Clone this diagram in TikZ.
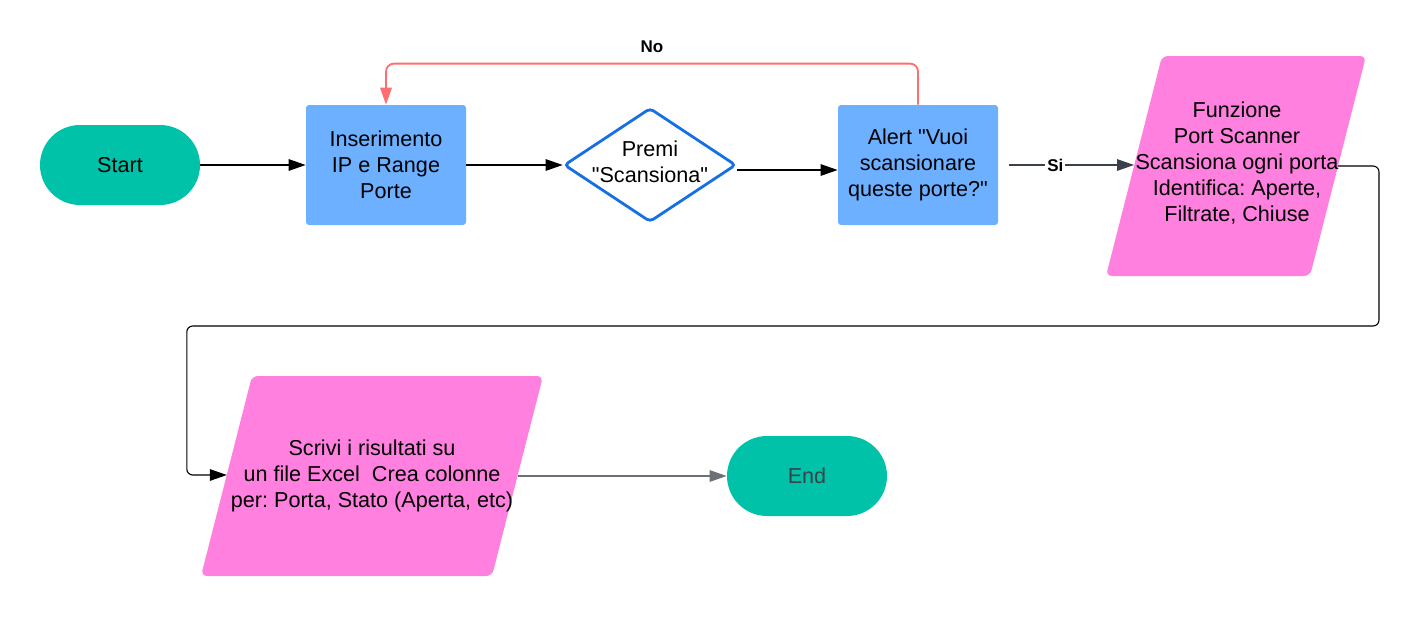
\documentclass[tikz,border=0pt]{standalone}
\usepackage{fontspec}
\setmainfont{Liberation Sans}
\frenchspacing
\usetikzlibrary{shapes.geometric,arrows.meta}
\definecolor{termgreen}{RGB}{0,194,168}
\definecolor{procblue}{RGB}{108,176,255}
\definecolor{decblue}{RGB}{22,112,228}
\definecolor{iopink}{RGB}{255,128,223}
\definecolor{nored}{RGB}{255,110,110}
\definecolor{darkline}{RGB}{58,65,74}
\newcommand{\qq}{\textquotedbl}

\begin{document}
\begin{tikzpicture}[x=0.5pt, y=-0.5pt,
	txt/.style={font=\fontsize{10.8}{13}\selectfont, align=center},
	term/.style={txt, fill=termgreen, rounded corners=20pt, minimum width=80pt, minimum height=40pt, inner sep=0pt},
	proc/.style={txt, fill=procblue, rounded corners=1.5pt, minimum width=80pt, minimum height=60pt, inner sep=0pt},
	decision/.style={diamond, draw=decblue, line width=1.4pt, fill=white, rounded corners=2pt, minimum width=86pt, minimum height=57pt, inner sep=0pt},
	iobox/.style={fill=iopink, rounded corners=3pt},
	flow/.style={line width=0.55pt, -{Triangle[length=8.5pt,width=5.8pt]}},
	noline/.style={flow, draw=nored, line width=0.9pt, rounded corners=4pt},
	lbl/.style={font=\fontsize{8.5}{10}\selectfont\bfseries, inner sep=1pt}]
	\useasboundingbox (0,0) rectangle (1419,616);

	% top row
	\node[term] (start) at (120,165) {Start};
	\node[proc] (ins) at (386,165) {Inserimento\\IP e Range\\Porte};
	\node[decision] (premi) at (650,165) {};
	\node[txt] (premitxt) at ([yshift=1.5pt]premi) {Premi\\\qq Scansiona\qq};
	\node[proc] (alert) at (918,165) {Alert \qq Vuoi\\scansionare\\queste porte?\qq};

	% port scanner
	\fill[iobox] (1106,276) -- (1162,56) -- (1366,56) -- (1310,276) -- cycle;
	\coordinate (funzin) at (1134,165);
	\coordinate (funzout) at (1338,166);
	\node[txt] (funz) at (1237,163) {Funzione\\Port Scanner\\Scansiona ogni porta\\Identifica: Aperte,\\Filtrate, Chiuse};

	% bottom row
	\fill[iobox] (201,576) -- (252,376) -- (543,376) -- (492,576) -- cycle;
	\coordinate (scrivin) at (226.8,475);
	\coordinate (scrivout) at (517.5,476);
	\node[txt] (scrivi) at (372,476) {Scrivi i risultati su\\un file Excel\ \ Crea colonne\\per: Porta, Stato (Aperta, etc)};
	\node[term, text=darkline] (end) at (807,476) {End};

	% connectors
	\draw[flow] (start) -- (ins);
	\draw[flow] (ins) -- (premi);
	\draw[flow] ([yshift=-2.5pt]premi.east) -- ([yshift=-2.5pt]alert.west);
	\draw[noline] (alert.north) -- ++(0,-41) -| node[lbl, pos=0.25, above=4pt, text=black] {No} (ins.north);
	\draw[flow, darkline, shorten <=5.5pt] (alert.east) -- node[lbl, fill=white, pos=0.42, text=black] {Si} (funzin);
	\draw[flow, rounded corners=3pt] (funzout) -- ++(41,0) -- ++(0,160) -| ([xshift=-20pt]scrivin) -- (scrivin);
	\draw[flow, draw=darkline!75] (scrivout) -- (end);
\end{tikzpicture}
\end{document}
